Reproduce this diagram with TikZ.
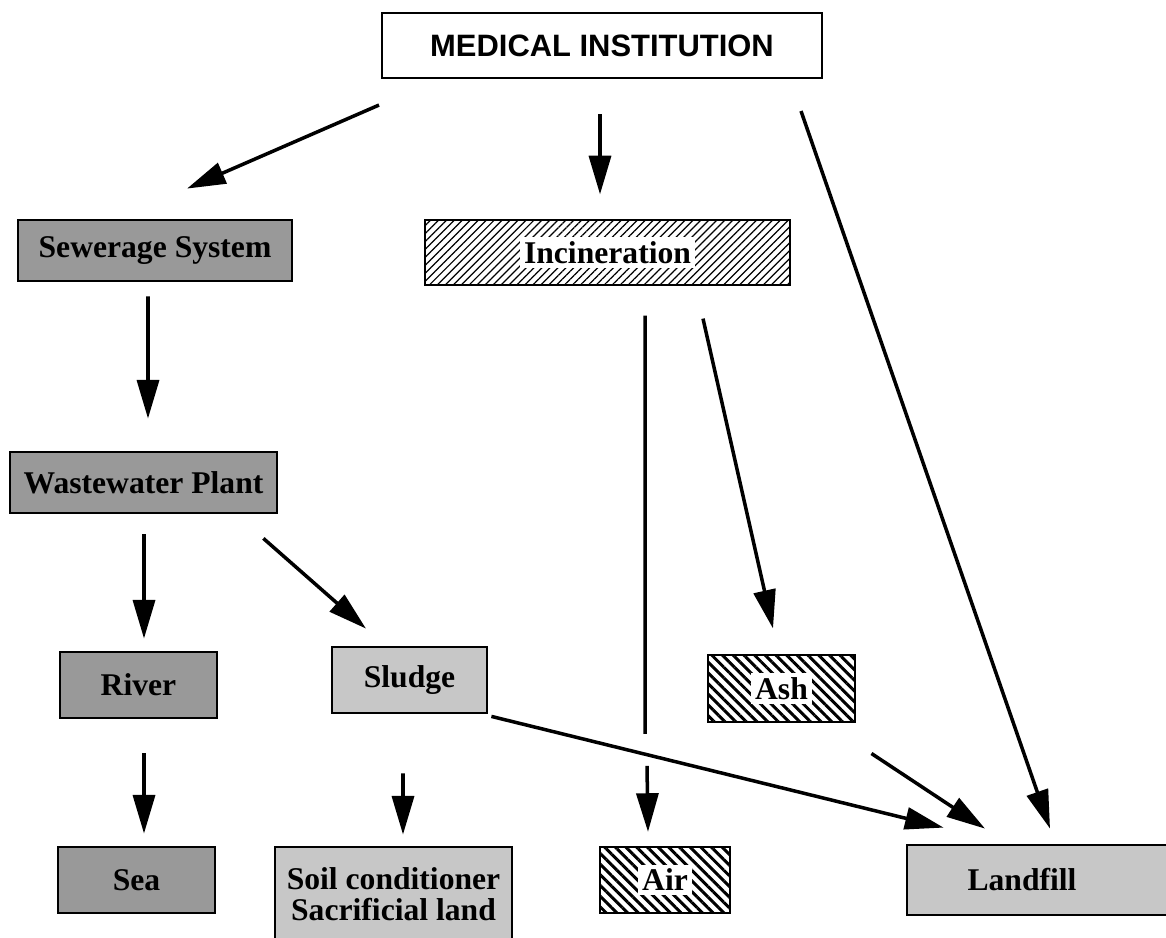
\documentclass[tikz,border=0pt]{standalone}
\usepackage{fontspec}
\setmainfont{Liberation Serif}
\newfontfamily\headfont{Liberation Sans}
\definecolor{ScreenDark}{gray}{0.6}
\definecolor{ScreenLight}{gray}{0.78}
\usepackage{tikz}
\usetikzlibrary{
    arrows.meta,
    calc,
    patterns.meta,
}
\newcommand{\clearbg}[1]{{\setlength{\fboxsep}{2.5pt}\colorbox{white}{#1}}}

\begin{document}
\begin{tikzpicture}[x=0.02cm, y=-0.02cm,
    wastebox/.style={draw, rectangle, inner sep=0pt, font=\fontsize{18}{17.5}\selectfont\bfseries},
    darkbox/.style={wastebox, fill=ScreenDark, line width=1.6pt},
    lightbox/.style={wastebox, fill=ScreenLight, line width=1.6pt},
    fineshade/.style={wastebox, line width=1.3pt, pattern={Lines[angle=45, distance=3.2pt, line width=0.7pt]}},
    boldshade/.style={wastebox, line width=1.3pt, pattern={Lines[angle=-45, distance=4.3pt, line width=1.7pt]}},
    headbox/.style={draw, rectangle, line width=1.2pt, fill=white, inner sep=0pt, font=\headfont\fontsize{17.6}{20}\selectfont\bfseries},
    flow/.style={line width=2pt, -{Triangle[length=22pt, width=12.5pt]}},
]
    \useasboundingbox (0,0) rectangle (1166,937);
    \fill[white] (0,0) rectangle (1166,937);

    % source
    \node[headbox, minimum width=8.8cm, minimum height=1.3cm] (mi) at (602,45.5) {MEDICAL INSTITUTION};

    % first level
    \node[darkbox, minimum width=5.48cm, minimum height=1.22cm] (sew) at (155,250.5) {Sewerage System};
    \node[fineshade, minimum width=7.3cm, minimum height=1.3cm] (inc) at (607.5,252.5) {\clearbg{Incineration}};

    % treatment
    \node[darkbox, minimum width=5.34cm, minimum height=1.22cm] (ww) at (143.5,482.5) {Wastewater Plant};
    \node[darkbox, minimum width=3.14cm, minimum height=1.32cm] (river) at (138.5,685) {River};
    \node[lightbox, minimum width=3.1cm, minimum height=1.32cm] (sludge) at (409.5,680) {Sludge};
    \node[boldshade, minimum width=2.94cm, minimum height=1.34cm] (ash) at (781.5,688.5) {\clearbg{Ash}};

    % final sinks
    \node[darkbox, minimum width=3.14cm, minimum height=1.32cm] (sea) at (136.5,880) {Sea};
    \node[lightbox, minimum width=4.74cm, minimum height=1.88cm, align=center] (soil) at (393.5,894) {Soil conditioner\\Sacrificial land};
    \node[boldshade, minimum width=2.6cm, minimum height=1.32cm] (air) at (665,880) {\clearbg{Air}};
    \node[lightbox, minimum width=5.36cm, minimum height=1.4cm] (land) at (1041,880) {\kern-0.76cm Landfill};

    % flows
    \draw[flow] ($(mi.south west)+(-2,26)$) -- ($(sew.north)+(32,-30)$);
    \draw[flow] ($(mi.south)+(-2,35)$) -- ($(inc.north)+(-7.5,-25)$);
    \draw[flow] ($(mi.south east)+(-22,32)$) -- ($(land.north)+(9,-15)$);
    \draw[flow] ($(sew.south)+(-7,14)$) -- ($(ww.north)+(4.5,-32)$);
    \draw[flow] ($(ww.south)+(0.5,20)$) -- ($(river.north)+(5.5,-12)$);
    \draw[flow] ($(ww.south east)+(-15,24)$) -- ($(sludge.north)+(-43.5,-17)$);
    \draw[flow] ($(river.south)+(5.5,34)$) -- ($(sea.north)+(7.5,-12)$);
    \draw[flow] ($(sludge.south)+(-6.5,59)$) -- ($(soil.north)+(9.5,-11)$);
    % air line is broken where the sludge line crosses it
    \draw[line width=2pt] ($(inc.south)+(37.5,30)$) -- ($(air.north)+(-20,-112)$);
    \draw[flow] ($(air.north)+(-18,-80)$) -- ($(air.north)+(-17,-14)$);
    \draw[flow] ($(inc.south)+(95.5,33)$) -- ($(ash.north)+(-8.5,-25)$);
    \draw[flow] ($(sludge.south east)+(3,2)$) -- ($(land.north west)+(38,-16)$);
    \draw[flow] ($(ash.south east)+(15,30)$) -- ($(land.north)+(-56,-15)$);
\end{tikzpicture}
\end{document}
